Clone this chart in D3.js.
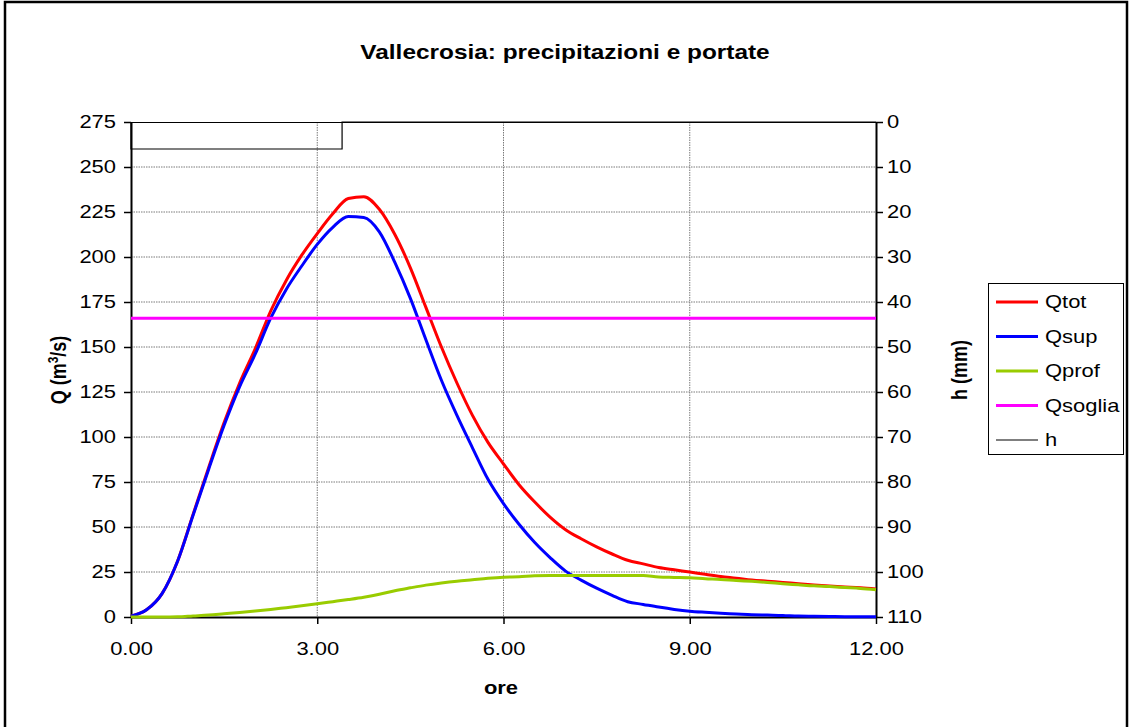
<!DOCTYPE html>
<html>
<head>
<meta charset="utf-8">
<script src="https://cdn.jsdelivr.net/npm/d3@7"></script>
<style>
  html, body { margin: 0; padding: 0; background: #fff; }
  svg { display: block; font-family: Arial, "Liberation Sans", sans-serif; }
</style>
</head>
<body>
<svg id="chart" width="1131" height="727"></svg>
<script>
// ---- data ----
const title = "Vallecrosia: precipitazioni e portate";
const timeHours = [0,0.25,0.5,0.75,1,1.25,1.5,1.75,2,2.25,2.5,2.75,3,3.25,3.5,3.75,4,4.25,4.5,4.75,5,5.25,5.5,5.75,6,6.25,6.5,6.75,7,7.25,7.5,7.75,8,8.25,8.5,8.75,9,9.25,9.5,9.75,10,10.25,10.5,10.75,11,11.25,11.5,11.75,12];
const qtot  = [0.5,4,13,31,57,83,108,130,149,170,187,201,213,224,232.5,233.5,226.5,212.5,194,172,150,130,112,97,85,73.5,64,55.5,48.5,43.5,39,35,31.5,29.5,27.5,26.2,25,23.7,22.5,21.6,20.6,19.9,19.2,18.5,17.8,17.2,16.7,16.2,15.5];
const qsup  = [0.5,4,13,31,56.5,82,106.5,128,146,166,182,195,207,216.5,222.5,222,214,197,177,154,131.5,112,94,76.5,63,51.5,41.5,33,25.5,20.5,16,12,8.5,7,5.5,4.2,3.2,2.6,2.1,1.7,1.3,1.1,0.9,0.5,0.4,0.3,0.2,0.2,0.1];
const qprof = [0,0,0,0.1,0.6,1.1,1.8,2.5,3.3,4.2,5.2,6.2,7.3,8.5,9.7,11,12.6,14.6,16.2,17.7,18.9,19.9,20.7,21.5,22.1,22.4,22.9,23.1,23.1,23.1,23.1,23.1,23.1,23.1,22.2,22,21.8,21.3,20.9,20.3,19.8,19.2,18.5,17.9,17.3,16.9,16.4,15.9,15.2];
const qsogliaTimes = [0, 12];
const qsogliaValues = [166, 166];
const hTimes  = [0, 0, 3.4, 3.4, 12];
const hValues = [0, 6, 6, 0, 0];
const xTicks = [0, 3, 6, 9, 12];
const qTicks = [0,25,50,75,100,125,150,175,200,225,250,275];
const hTicks = [0,10,20,30,40,50,60,70,80,90,100,110];
const seriesNames = ["Qtot", "Qsup", "Qprof", "Qsoglia", "h"];
const seriesColors = ["#ff0000", "#0000ff", "#99cc00", "#ff00ff", "#000000"];

// ---- layout ----
const svg = d3.select("#chart");
const L = 131, R = 876, T = 122, B = 617;
const SX = 1.22; // horizontal stretch of the reference's text

const x = d3.scaleLinear().domain([0, 12]).range([L, R]);
const yQ = d3.scaleLinear().domain([0, 275]).range([B, T]);
const yH = d3.scaleLinear().domain([0, 110]).range([T, B]);

// outer frame
svg.append("path")
  .attr("d", "M5,727 V2 H1127 V727")
  .attr("fill", "none").attr("stroke", "#000").attr("stroke-width", 2.5);

// title
svg.append("text").attr("transform", `translate(565,59) scale(${SX},1)`).attr("text-anchor", "middle")
  .attr("font-size", 20).attr("font-weight", "bold").text(title);

// gridlines
const grid = svg.append("g");
grid.selectAll("line.h").data(qTicks.filter(d => d > 0 && d < 275)).enter().append("line")
  .attr("x1", L).attr("x2", R).attr("y1", d => yQ(d)).attr("y2", d => yQ(d))
  .attr("stroke", "#7a7a7a").attr("stroke-width", 1).attr("stroke-dasharray", "1.5,1");
grid.selectAll("line.v").data(xTicks.filter(d => d > 0 && d < 12)).enter().append("line")
  .attr("x1", d => x(d)).attr("x2", d => x(d)).attr("y1", T).attr("y2", B)
  .attr("stroke", "#7a7a7a").attr("stroke-width", 1).attr("stroke-dasharray", "1.5,1");
// plot top border
svg.append("line").attr("x1", L).attr("x2", R).attr("y1", T + 0.5).attr("y2", T + 0.5)
  .attr("stroke", "#000").attr("stroke-width", 1);

// axes
const fmt2 = d3.format(".2f");
const axB = svg.append("g").attr("transform", `translate(0,${B})`)
  .call(d3.axisBottom(x).tickValues(xTicks).tickFormat(fmt2).tickSize(7).tickSizeOuter(0));
const axL = svg.append("g").attr("transform", `translate(${L},0)`)
  .call(d3.axisLeft(yQ).tickValues(qTicks).tickSize(7).tickSizeOuter(0));
const axR = svg.append("g").attr("transform", `translate(${R},0)`)
  .call(d3.axisRight(yH).tickValues(hTicks).tickSize(7).tickSizeOuter(0));
[axB, axL, axR].forEach(a => {
  a.select(".domain").attr("stroke", "#000").attr("stroke-width", 2);
  a.selectAll(".tick line").attr("stroke", "#000").attr("stroke-width", 1.5);
  a.selectAll(".tick text").attr("font-size", 18).attr("fill", "#000")
    .attr("font-family", "Arial, 'Liberation Sans', sans-serif");
});
axB.selectAll(".tick text").attr("y", 0).attr("dy", "0").attr("transform", `translate(0,38) scale(${SX},1)`);
axL.selectAll(".tick text").attr("x", 0).attr("transform", `translate(-15,0) scale(${SX},1)`);
axR.selectAll(".tick text").attr("x", 0).attr("transform", `translate(11,0) scale(${SX},1)`);

// axis titles
svg.append("text").attr("transform", "translate(66,370) rotate(-90) scale(1,1.2)").attr("text-anchor", "middle")
  .attr("font-size", 18).attr("font-weight", "bold")
  .html('Q (m<tspan baseline-shift="super" font-size="12">3</tspan>/s)');
svg.append("text").attr("transform", "translate(967,370) rotate(-90) scale(1,1.2)").attr("text-anchor", "middle")
  .attr("font-size", 18).attr("font-weight", "bold").text("h (mm)");
svg.append("text").attr("transform", `translate(501,694) scale(${SX},1)`).attr("text-anchor", "middle")
  .attr("font-size", 18).attr("font-weight", "bold").text("ore");

// series
const qLine = d3.line().x(d => x(d[0])).y(d => yQ(d[1])).curve(d3.curveMonotoneX);
const hLine = d3.line().x(d => x(d[0])).y(d => yH(d[1]));
const zip = (a, b) => a.map((v, i) => [v, b[i]]);
const plot = svg.append("g");
plot.append("path").datum(zip(timeHours, qtot)).attr("d", qLine)
  .attr("fill", "none").attr("stroke", seriesColors[0]).attr("stroke-width", 3).attr("stroke-linejoin", "round");
plot.append("path").datum(zip(timeHours, qsup)).attr("d", qLine)
  .attr("fill", "none").attr("stroke", seriesColors[1]).attr("stroke-width", 3).attr("stroke-linejoin", "round");
plot.append("path").datum(zip(timeHours, qprof)).attr("d", qLine)
  .attr("fill", "none").attr("stroke", seriesColors[2]).attr("stroke-width", 3).attr("stroke-linejoin", "round");
plot.append("path").datum(zip(qsogliaTimes, qsogliaValues)).attr("d", qLine)
  .attr("fill", "none").attr("stroke", seriesColors[3]).attr("stroke-width", 3);
plot.append("path").datum(zip(hTimes, hValues)).attr("d", hLine)
  .attr("fill", "none").attr("stroke", seriesColors[4]).attr("stroke-width", 1.2);

// legend
const lg = svg.append("g");
lg.append("rect").attr("x", 988.5).attr("y", 283.5).attr("width", 135).attr("height", 171)
  .attr("fill", "#fff").attr("stroke", "#000").attr("stroke-width", 1);
const rowY = d3.scalePoint().domain(seriesNames).range([302, 440]);
seriesNames.forEach((n, i) => {
  lg.append("line").attr("x1", 996).attr("x2", 1038).attr("y1", rowY(n)).attr("y2", rowY(n))
    .attr("stroke", seriesColors[i]).attr("stroke-width", i === 4 ? 1.2 : 3);
  lg.append("text").attr("transform", `translate(1045,${rowY(n)}) scale(${SX},1)`).attr("dy", "0.36em")
    .attr("font-size", 18).text(n);
});
</script>
</body>
</html>
